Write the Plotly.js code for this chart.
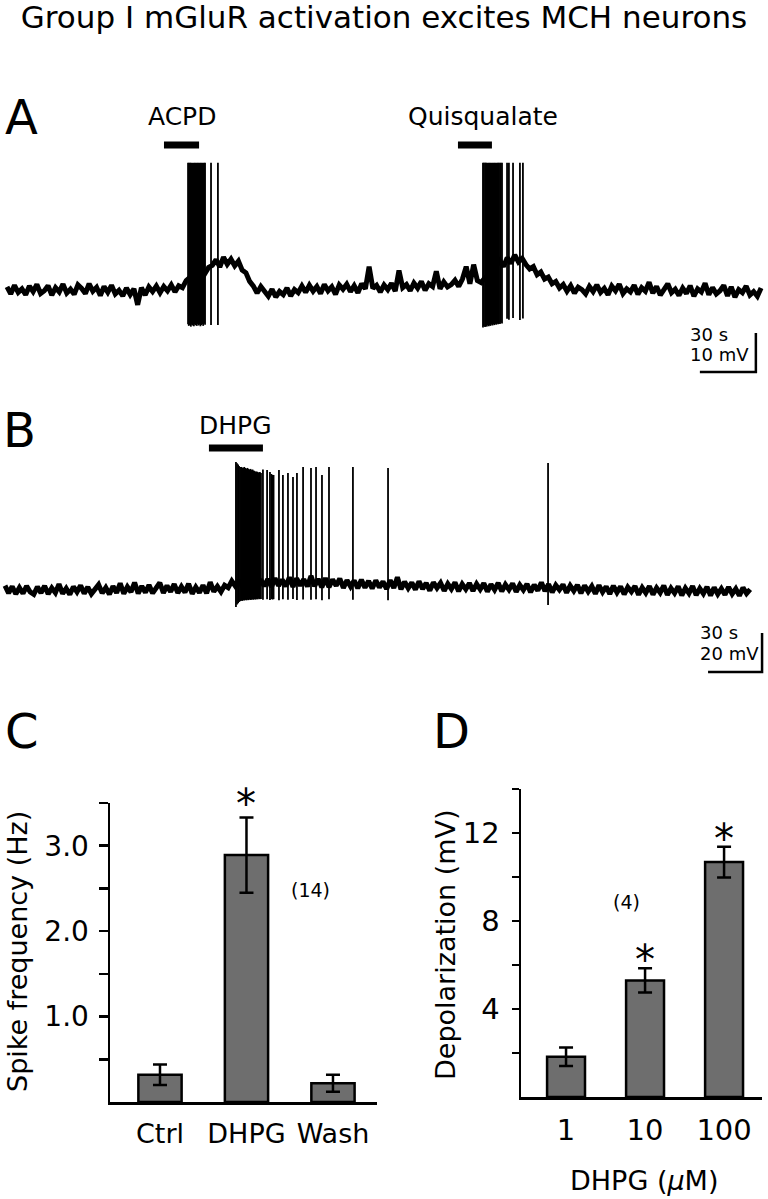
<!DOCTYPE html>
<html>
<head>
<meta charset="utf-8">
<script src="https://cdn.plot.ly/plotly-3.0.1.min.js"></script>
<style>
  body { margin: 0; background: #fff; }
  #fig { width: 768px; height: 1199px; }
</style>
</head>
<body>
<div id="fig"></div>
<script>
// ---- panel A: membrane potential (mV from rest), one sample every 2 s ----
var dtA = 2;
var vmA = [
  0.8, -1.0, 1.2, -0.6, 0.3, -1.2, 1.0, -0.4, 1.4, -0.9,
  -0.2, 1.1, -1.3, 0.6, -0.5, 1.5, -0.8, 0.2, -1.1, 1.3,
  0.4, -0.9, 1.6, -0.3, 0.7, -1.4, 0.9, -0.6, 1.2, -1.0,
  -0.1, -1.5, 0.5, -1.2, 0.3, -3.8, 0.6, -1.3, 0.8, -0.4,
  1.0, -0.7, 0.9, -0.2, 1.3, -0.5, 1.1, 0.6, 2.4, 3.2,
  4.8, 3.5, 5.6, 4.2, 5.8, 6.3, 7.8, 5.9, 8.4, 6.6,
  7.9, 6.2, 7.4, 5.1, 4.4, 2.2, 1.0, -0.8, 0.9, -0.5,
  -1.6, 0.2, -1.8, -0.4, -1.2, 0.5, -1.5, 0.1, -0.7, 1.0,
  -0.6, 1.2, -0.3, 0.9, -0.9, 1.4, -0.2, 0.8, -1.1, 1.3,
  0.2, 1.5, -0.4, 1.1, -0.7, 1.6, 0.3, 6.0, 0.4, 1.2,
  -0.5, 1.3, 0.1, 1.7, -0.3, 5.0, 0.6, 1.4, -0.2, 1.8,
  0.5, 2.2, -0.1, 1.6, 0.9, 4.8, 0.3, 2.1, 0.8, 1.4,
  2.5, 0.9, 2.8, 6.0, 1.6, 6.5, 2.4, 1.9, 3.1, 3.6,
  5.0, 6.2, 7.5, 6.0, 8.3, 6.8, 9.0, 7.2, 8.1, 6.5,
  5.4, 6.0, 3.9, 4.6, 2.8, 3.3, 1.6, 2.2, 0.5, 1.4,
  -0.3, 1.1, -0.8, 0.7, 0.1, -1.0, 0.9, -0.4, 1.3, -0.6,
  0.4, -1.2, 1.0, -0.2, 1.5, -0.9, 0.3, -0.5, 1.2, -1.1,
  0.6, -0.3, 2.0, -0.8, 0.9, -1.3, 0.4, 1.6, -0.7, 0.2,
  -1.4, 0.5, -0.9, 1.1, -1.6, 0.3, -0.5, 1.7, -1.2, 0.6,
  -1.0, -0.2, 1.2, -1.5, 0.8, -1.8, 0.1, -0.7, 1.0, -1.3,
  -0.4, -1.6, 0.5
];
// spikes in A: time (s), peak and trough (mV)
var spikeTA = [
  97.0, 97.4, 98.0, 98.5, 98.9, 99.5, 100.1, 100.6, 101.0, 101.6,
  102.1, 102.5, 103.1, 103.6, 104.0, 104.6, 105.1, 105.6, 106.1, 109.3, 113.0,
  255.0, 255.5, 256.1, 256.6, 257.0, 257.6, 258.1, 258.6, 259.0, 259.6,
  260.1, 260.6, 261.1, 261.5, 262.1, 262.6, 263.1, 263.5, 264.1, 264.6, 265.2,
  267.9, 268.9, 271.1, 274.8, 276.4
];
var spikePeakA = [
  32.6, 32.6, 32.6, 32.6, 32.6, 32.6, 32.6, 32.6, 32.6, 32.6,
  32.6, 32.6, 32.6, 32.6, 32.6, 32.6, 32.6, 32.6, 32.6, 32.6, 32.6,
  32.6, 32.6, 32.6, 32.6, 32.6, 32.6, 32.6, 32.6, 32.6, 32.6,
  32.6, 32.6, 32.6, 32.6, 32.6, 32.6, 32.6, 32.6, 32.6, 32.6, 32.6,
  32.6, 32.6, 32.6, 32.6, 32.6
];
var spikeTroughA = [
  -8.8, -9.2, -9.0, -9.4, -8.9, -9.1, -9.3, -8.8, -9.0, -9.2,
  -8.7, -9.1, -8.9, -9.3, -9.0, -8.8, -9.2, -8.6, -8.9, -9.0, -9.0,
  -9.6, -9.3, -9.5, -9.2, -9.4, -9.1, -9.3, -9.0, -9.2, -8.9,
  -9.1, -8.8, -9.0, -8.7, -8.9, -8.6, -8.8, -8.5, -8.7, -8.4, -8.6,
  -7.4, -7.6, -7.2, -7.7, -7.3
];
var drugA = ["ACPD", "Quisqualate"];
var drugStartA = [84.1, 241.6];
var drugEndA = [102.9, 259.8];

// ---- panel B: membrane potential (mV from rest), one sample every 2 s ----
var dtB = 2;
var vmB = [
  2.2, -1.6, 1.8, -2.0, 1.2, -1.8, 2.0, -1.0, -2.2, 1.6,
  -1.5, 2.1, -2.1, 1.0, -1.4, 3.0, -1.9, 0.8, -2.3, 1.7,
  -1.0, 2.3, -1.8, 1.5, -2.0, 0.9, 2.7, -1.6, 1.2, -2.2,
  1.9, -1.4, 3.4, -1.9, 1.6, -1.0, 3.8, -1.8, 2.0, -1.3,
  2.5, -1.6, 1.4, 3.7, -1.5, 2.2, -0.9, 3.0, -1.5, 1.7,
  -1.2, 3.2, -1.9, 1.5, -1.3, 2.4, -1.7, 4.0, -0.8, 1.8,
  -0.9, 2.4, 1.2, 4.6, 2.0, 5.0, 1.5, 4.8, 1.6, 5.2,
  1.8, 5.4, 2.0, 5.6, 1.5, 6.0, 2.2, 5.3, 1.9, 6.4,
  1.6, 5.9, 2.3, 5.5, 1.8, 7.2, 2.0, 5.6, 1.4, 6.0,
  1.5, 5.4, 2.2, 5.8, 1.1, 5.0, 1.8, 4.9, 0.9, 5.2,
  1.2, 4.6, 0.8, 4.9, 1.3, 4.3, 0.5, 5.0, 1.0, 6.5,
  0.4, 4.2, 0.9, 3.8, 0.2, 4.4, 0.6, 3.5, -0.3, 3.9,
  1.0, 3.6, -0.4, 3.2, 0.5, 3.8, -0.6, 3.0, 0.4, 3.5,
  -0.5, 3.1, 0.3, 3.4, -0.8, 2.9, 0.1, 3.6, -0.7, 2.8,
  0.2, 3.3, -0.9, 2.6, 0.0, 3.1, -1.1, 2.7, -0.3, 3.9,
  -0.6, 3.0, -1.2, 2.5, 0.1, 2.8, -1.4, 2.2, -0.5, 2.6,
  -1.6, 2.3, -0.8, 1.9, -1.9, 2.4, -1.1, 1.8, -2.0, 2.1,
  -1.3, 1.7, -2.2, 1.5, -0.9, 2.0, -2.4, 1.2, -1.5, 1.9,
  -2.3, 1.1, -1.4, 2.2, -2.5, 0.9, -1.6, 1.8, -2.7, 1.0,
  -1.7, 2.0, -2.6, 0.8, -1.9, 1.6, -2.8, 1.3, -2.1, 0.7,
  -2.4, 1.5, -2.0, 0.6, -2.9, 1.2, -1.8, 0.3
];
var spikeTB = [
  128.3, 128.9, 129.5, 130.0, 130.6, 131.2, 131.8, 132.4, 132.9, 133.5,
  134.1, 134.7, 135.2, 135.8, 136.4, 137.0, 137.5, 138.1, 138.7, 139.3,
  139.8, 140.4, 141.0, 141.6, 142.2,
  143.3, 145.6, 147.2, 148.0, 148.6, 149.2, 152.2, 154.4, 157.2, 160.0,
  162.2, 165.6, 170.0, 172.8, 176.1, 180.0, 193.3, 212.8, 301.7
];
var spikePeakB = [
  65.6, 65.0, 64.4, 63.6, 63.1, 63.1, 62.8, 62.6, 63.1, 62.6,
  62.2, 62.6, 62.1, 61.8, 62.1, 61.5, 61.8, 61.3, 61.0, 60.5,
  60.8, 60.5, 60.2, 60.5, 60.0,
  61.8, 61.5, 60.5, 59.5, 59.0, 59.0, 61.5, 59.0, 60.0, 58.0,
  60.0, 63.1, 62.6, 63.1, 59.0, 63.1, 63.1, 62.6, 65.1
];
var spikeTroughB = [
  -8.7, -7.5, -6.8, -6.2, -5.8, -5.5, -5.6, -5.2, -5.4, -5.1,
  -5.3, -5.0, -5.2, -4.9, -5.1, -5.0, -4.8, -5.0, -4.7, -4.9,
  -4.6, -4.8, -4.5, -4.7, -4.6,
  -5.0, -4.8, -5.1, -4.6, -4.9, -4.7, -5.2, -4.8, -5.0, -4.6,
  -5.1, -4.9, -5.0, -4.7, -5.2, -4.8, -5.0, -5.3, -7.7
];
var drugB = ["DHPG"];
var drugStartB = [113.3];
var drugEndB = [143.3];

// ---- panel C: spike frequency ----
var groupsC = ["Ctrl", "DHPG", "Wash"];
var freqC = [0.32, 2.89, 0.22];
var freqErrC = [0.12, 0.44, 0.10];
var sigC = [false, true, false];
var nC = "(14)";

// ---- panel D: depolarization vs DHPG dose ----
var dosesD = ["1", "10", "100"];
var depolD = [1.83, 5.30, 10.68];
var depolErrD = [0.42, 0.55, 0.70];
var sigD = [false, true, true];
var nD = "(4)";

var FONT = "DejaVu Sans";

function spikeSegs(t, peak, trough) {
  var x = [], y = [];
  for (var i = 0; i < t.length; i++) {
    x.push(t[i], t[i], null);
    y.push(trough[i], peak[i], null);
  }
  return { x: x, y: y };
}
var segA = spikeSegs(spikeTA, spikePeakA, spikeTroughA);
var segB = spikeSegs(spikeTB, spikePeakB, spikeTroughB);

// pixel helpers for layout placement
function px(x) { return x / 768; }
function py(y) { return 1 - y / 1199; }

function label(x, y, text, size, extra) {
  return Object.assign({ xref: "paper", yref: "paper", x: px(x), y: py(y), text: text,
    showarrow: false, xanchor: "center", yanchor: "middle",
    font: { family: FONT, size: size, color: "#000" } }, extra || {});
}

var data = [
  { type: "scatter", mode: "lines", x0: 0, dx: dtA, y: vmA,
    line: { color: "#000", width: 5 }, xaxis: "x", yaxis: "y" },
  { type: "scatter", mode: "lines", x: segA.x, y: segA.y,
    line: { color: "#000", width: 1.8 }, xaxis: "x", yaxis: "y" },
  { type: "scatter", mode: "lines", x0: 0, dx: dtB, y: vmB,
    line: { color: "#000", width: 5 }, xaxis: "x2", yaxis: "y2" },
  { type: "scatter", mode: "lines", x: segB.x, y: segB.y,
    line: { color: "#000", width: 1.8 }, xaxis: "x2", yaxis: "y2" },
  { type: "bar", x: groupsC, y: freqC, width: 0.5,
    marker: { color: "#6e6e6e", line: { color: "#000", width: 2.5 } },
    error_y: { type: "data", array: freqErrC, color: "#000", thickness: 2.5, width: 7 },
    xaxis: "x3", yaxis: "y3" },
  { type: "bar", x: dosesD, y: depolD, width: 0.48,
    marker: { color: "#6e6e6e", line: { color: "#000", width: 2.5 } },
    error_y: { type: "data", array: depolErrD, color: "#000", thickness: 2.5, width: 7 },
    xaxis: "x4", yaxis: "y4" }
];

var shapes = [];
var annotations = [];

// drug application bars + labels
var drugShiftA = [0, 8];
drugA.forEach(function (d, i) {
  shapes.push({ type: "line", xref: "x", yref: "paper",
    x0: drugStartA[i], x1: drugEndA[i], y0: py(145), y1: py(145),
    line: { color: "#000", width: 7 } });
  annotations.push({ xref: "x", yref: "paper", x: (drugStartA[i] + drugEndA[i]) / 2,
    xshift: drugShiftA[i], y: py(117), text: d, showarrow: false,
    xanchor: "center", yanchor: "middle",
    font: { family: FONT, size: 25, color: "#000" } });
});
drugB.forEach(function (d, i) {
  shapes.push({ type: "line", xref: "x2", yref: "paper",
    x0: drugStartB[i], x1: drugEndB[i], y0: py(448), y1: py(448),
    line: { color: "#000", width: 7 } });
  annotations.push({ xref: "x2", yref: "paper", x: (drugStartB[i] + drugEndB[i]) / 2,
    y: py(426), text: d, showarrow: false, xanchor: "center", yanchor: "middle",
    font: { family: FONT, size: 25, color: "#000" } });
});

// scale bars (30 s / 10 mV and 30 s / 20 mV)
shapes.push(
  { type: "path", xref: "x", yref: "y", path: "M 371.2 -21 L 401.2 -21 L 401.2 -11",
    line: { color: "#000", width: 2.5 } },
  { type: "path", xref: "x2", yref: "y2", path: "M 390.6 -42 L 420.6 -42 L 420.6 -22",
    line: { color: "#000", width: 2.5 } }
);
annotations.push(
  label(688, 334, "30 s", 18, { xanchor: "left" }),
  label(688, 355, "10 mV", 18, { xanchor: "left" }),
  label(698, 632, "30 s", 18, { xanchor: "left" }),
  label(698, 653, "20 mV", 18, { xanchor: "left" })
);

// panel letters
annotations.push(
  label(3, 117, "A", 48, { xanchor: "left" }),
  label(1, 430, "B", 48, { xanchor: "left" }),
  label(3, 731, "C", 48, { xanchor: "left" }),
  label(431, 731, "D", 48, { xanchor: "left" })
);

// significance stars, anchored at the top of each error bar
sigC.forEach(function (s, i) {
  if (!s) return;
  annotations.push({ xref: "x3", yref: "y3", x: i, y: freqC[i] + freqErrC[i], text: "*",
    showarrow: true, arrowcolor: "rgba(0,0,0,0)", arrowwidth: 0.1, ax: 0, ay: -14,
    xanchor: "center", yanchor: "middle", font: { family: FONT, size: 40, color: "#000" } });
});
sigD.forEach(function (s, i) {
  if (!s) return;
  annotations.push({ xref: "x4", yref: "y4", x: i, y: depolD[i] + depolErrD[i], text: "*",
    showarrow: true, arrowcolor: "rgba(0,0,0,0)", arrowwidth: 0.1, ax: 0, ay: -8,
    xanchor: "center", yanchor: "middle", font: { family: FONT, size: 40, color: "#000" } });
});
// n labels
annotations.push(
  label(310, 890, nC, 19),
  label(626, 902, nD, 19)
);
// axis titles
annotations.push(
  label(17, 952, "Spike frequency (Hz)", 27, { textangle: -90 }),
  label(445, 945, "Depolarization (mV)", 27, { textangle: -90 }),
  label(644, 1180, "DHPG (<i>μ</i>M)", 27)
);

var hidden = { visible: false, fixedrange: true };
var layout = {
  width: 768, height: 1199,
  margin: { l: 0, r: 0, t: 0, b: 0 },
  paper_bgcolor: "#fff", plot_bgcolor: "rgba(0,0,0,0)",
  showlegend: false,
  font: { family: FONT, color: "#000" },
  title: { text: "Group I mGluR activation excites MCH neurons",
    x: 0.5, xanchor: "center", y: py(17), yanchor: "middle",
    font: { family: FONT, size: 31, color: "#000" } },
  xaxis: Object.assign({ domain: [0, 1], range: [-3.75, 407.7] }, hidden),
  yaxis: Object.assign({ domain: [py(385), py(140)], range: [-24.36, 38.46] }, hidden),
  xaxis2: Object.assign({ domain: [0, 1], range: [-2.78, 423.9] }, hidden),
  yaxis2: Object.assign({ domain: [py(685), py(445)], range: [-48.72, 74.36] }, hidden),
  xaxis3: { domain: [px(110), px(377)], range: [-0.578, 2.509], type: "category",
    anchor: "y3", showline: true, linecolor: "#000", linewidth: 2.5, ticks: "",
    showgrid: false, zeroline: false, ticklabelstandoff: 6,
    tickfont: { family: FONT, size: 27, color: "#000" } },
  yaxis3: { domain: [py(1102), py(803)], range: [0, 3.5], anchor: "x3",
    showline: true, linecolor: "#000", linewidth: 2.5, ticks: "outside", ticklen: 9,
    tickwidth: 2.5, tickcolor: "#000", showgrid: false, zeroline: false,
    tickvals: [0.5, 1, 1.5, 2, 2.5, 3, 3.5], ticktext: ["", "1.0", "", "2.0", "", "3.0", ""],
    ticklabelstandoff: 4, tickfont: { family: FONT, size: 28, color: "#000" } },
  xaxis4: { domain: [px(521), px(762)], range: [-0.57, 2.48], type: "category",
    anchor: "y4", showline: true, linecolor: "#000", linewidth: 2.5, ticks: "",
    showgrid: false, zeroline: false, ticklabelstandoff: 6,
    tickfont: { family: FONT, size: 29, color: "#000" } },
  yaxis4: { domain: [py(1097), py(789)], range: [0, 14], anchor: "x4",
    showline: true, linecolor: "#000", linewidth: 2.5, ticks: "outside", ticklen: 7,
    tickwidth: 2.5, tickcolor: "#000", showgrid: false, zeroline: false,
    tickvals: [2, 4, 6, 8, 10, 12, 14], ticktext: ["", "4", "", "8", "", "12", ""],
    ticklabelstandoff: 6, tickfont: { family: FONT, size: 29, color: "#000" } },
  shapes: shapes,
  annotations: annotations
};

Plotly.newPlot("fig", data, layout, { staticPlot: true, displayModeBar: false });
</script>
</body>
</html>
